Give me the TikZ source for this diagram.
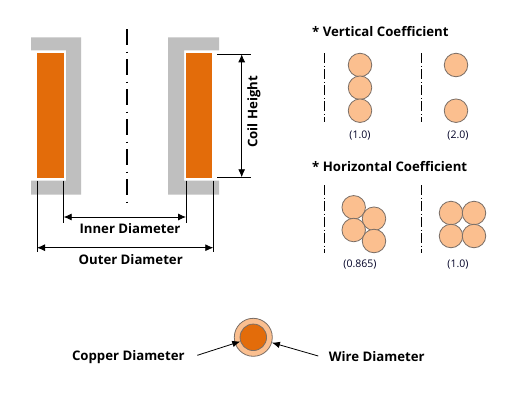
\documentclass[tikz,border=0pt]{standalone}
\usepackage{fontspec}
\setmainfont{Open Sans}
\usetikzlibrary{arrows.meta}
\definecolor{coilor}{HTML}{E36C0A}
\definecolor{wirelt}{HTML}{FBBF8F}
\definecolor{coregr}{HTML}{BFBFBF}
\definecolor{ringgr}{HTML}{7A6E66}
\tikzset{
  core/.style={fill=coregr,draw=none,even odd rule},
  coil/.style={fill=coilor,draw=none},
  dimline/.style={draw=black,line width=0.8pt,{Latex[length=8pt,width=7pt]}-{Latex[length=8pt,width=7pt]}},
  extline/.style={draw=black,line width=0.7pt},
  axisbig/.style={draw=black,line width=1.5pt,dash pattern=on 16pt off 6.5pt on 1.5pt off 6pt},
  axissmall/.style={draw=black,line width=0.8pt,dash pattern=on 10pt off 2.5pt on 1pt off 2.5pt},
  wire/.style={circle,inner sep=0pt,minimum size=23.5pt,fill=wirelt,draw=ringgr,line width=0.8pt},
  biglabel/.style={font=\fontsize{13.2}{15}\selectfont\bfseries,text=black,inner sep=0pt},
  titlelabel/.style={font=\fontsize{13.2}{15}\selectfont\bfseries,text=black,inner sep=0pt,anchor=west},
  smalllabel/.style={font=\fontsize{10.5}{12}\selectfont,text=black!85!blue,inner sep=0pt},
  pointer/.style={draw=black,line width=0.8pt,-{Latex[length=8pt,width=6.5pt]}}
}
\begin{document}
\begin{tikzpicture}[x=1pt,y=-1pt]
\useasboundingbox (0,0) rectangle (520,400);
\fill[white] (0,0) rectangle (520,400);
% core halves
\fill[core] (31,37.3) -- (81,37.3) -- (81,194.7) -- (31,194.7) -- (31,180.7) -- (66,180.7) -- (66,50.3) -- (31,50.3) -- cycle;
\fill[core] (168,37.3) -- (219,37.3) -- (219,50.3) -- (184,50.3) -- (184,180.7) -- (219,180.7) -- (219,194.7) -- (168,194.7) -- cycle;
% coils
\fill[coil] (37,53) rectangle (64,177.7);
\fill[coil] (186,53) rectangle (212.3,177.7);
% axis
\coordinate (axT) at (127,29);
\coordinate (axB) at (127,202);
\draw[axisbig] (axT) -- (axB);
% coil height
\coordinate (chA) at (217,54.3);
\coordinate (chAe) at (251,54.3);
\coordinate (chB) at (217,177.3);
\coordinate (chBe) at (251,177.3);
\coordinate (chT) at (241.7,54.3);
\coordinate (chD) at (241.7,177.3);
\draw[extline] (chA) -- (chAe);
\draw[extline] (chB) -- (chBe);
\draw[dimline] (chT) -- (chD);
\node[biglabel,rotate=90] (coilh) at (254,112) {Coil Height};
% inner diameter
\coordinate (idLa) at (63.7,180.7);
\coordinate (idLb) at (63.7,223);
\coordinate (idRa) at (186,180.7);
\coordinate (idRb) at (186,223);
\coordinate (idL) at (63.7,217);
\coordinate (idR) at (186,217);
\draw[extline] (idLa) -- (idLb);
\draw[extline] (idRa) -- (idRb);
\draw[dimline] (idL) -- (idR);
\node[biglabel] (inner) at (130,229) {Inner Diameter};
% outer diameter
\coordinate (odLa) at (37,180.7);
\coordinate (odLb) at (37,251.7);
\coordinate (odRa) at (213.3,180.7);
\coordinate (odRb) at (213.3,251.7);
\coordinate (odL) at (37,247.7);
\coordinate (odR) at (213.3,247.7);
\draw[extline] (odLa) -- (odLb);
\draw[extline] (odRa) -- (odRb);
\draw[dimline] (odL) -- (odR);
\node[biglabel] (outer) at (130.7,260) {Outer Diameter};
% vertical coefficient
\node[titlelabel] (vtitle) at (312,31.7) {* Vertical Coefficient};
\coordinate (v1t) at (324.3,53.3);
\coordinate (v1b) at (324.3,121.7);
\coordinate (v2t) at (421.3,53.3);
\coordinate (v2b) at (421.3,121.7);
\draw[axissmall] (v1t) -- (v1b);
\draw[axissmall] (v2t) -- (v2b);
\node[wire] (va) at (360,65) {};
\node[wire] (vb) at (360,87.7) {};
\node[wire] (vc) at (360,110.7) {};
\node[wire] (vd) at (456,65) {};
\node[wire] (ve) at (456,110.7) {};
\node[smalllabel] (vl1) at (360,135.7) {(1.0)};
\node[smalllabel] (vl2) at (458,135.7) {(2.0)};
% horizontal coefficient
\node[titlelabel] (htitle) at (312,166.7) {* Horizontal Coefficient};
\coordinate (h1t) at (324.7,185);
\coordinate (h1b) at (324.7,253.3);
\coordinate (h2t) at (421.3,185);
\coordinate (h2b) at (421.3,253.3);
\draw[axissmall] (h1t) -- (h1b);
\draw[axissmall] (h2t) -- (h2b);
\node[wire] (ha) at (353.7,207.3) {};
\node[wire] (hb) at (374,218.7) {};
\node[wire] (hc) at (353.7,230) {};
\node[wire] (hd) at (374,241) {};
\node[wire] (he) at (451,213) {};
\node[wire] (hf) at (474,213) {};
\node[wire] (hg) at (451,236) {};
\node[wire] (hh) at (474,236) {};
\node[smalllabel] (hl1) at (360,265) {(0.865)};
\node[smalllabel] (hl2) at (458,265) {(1.0)};
% wire section
\node[circle,inner sep=0pt,minimum size=38pt,fill=wirelt,draw=ringgr,line width=0.8pt] (wout) at (253.3,337.3) {};
\node[circle,inner sep=0pt,minimum size=26.5pt,fill=coilor,draw=ringgr,line width=0.8pt] (wcu) at (253.3,337.3) {};
\node[biglabel] (cul) at (128.3,356.7) {Copper Diameter};
\node[biglabel] (wl) at (376.7,356.7) {Wire Diameter};
\coordinate (cuS) at (197.3,355.3);
\coordinate (wS) at (318.3,356);
\draw[pointer] (cuS) -- (wcu);
\draw[pointer] (wS) -- (wout);
\end{tikzpicture}
\end{document}
